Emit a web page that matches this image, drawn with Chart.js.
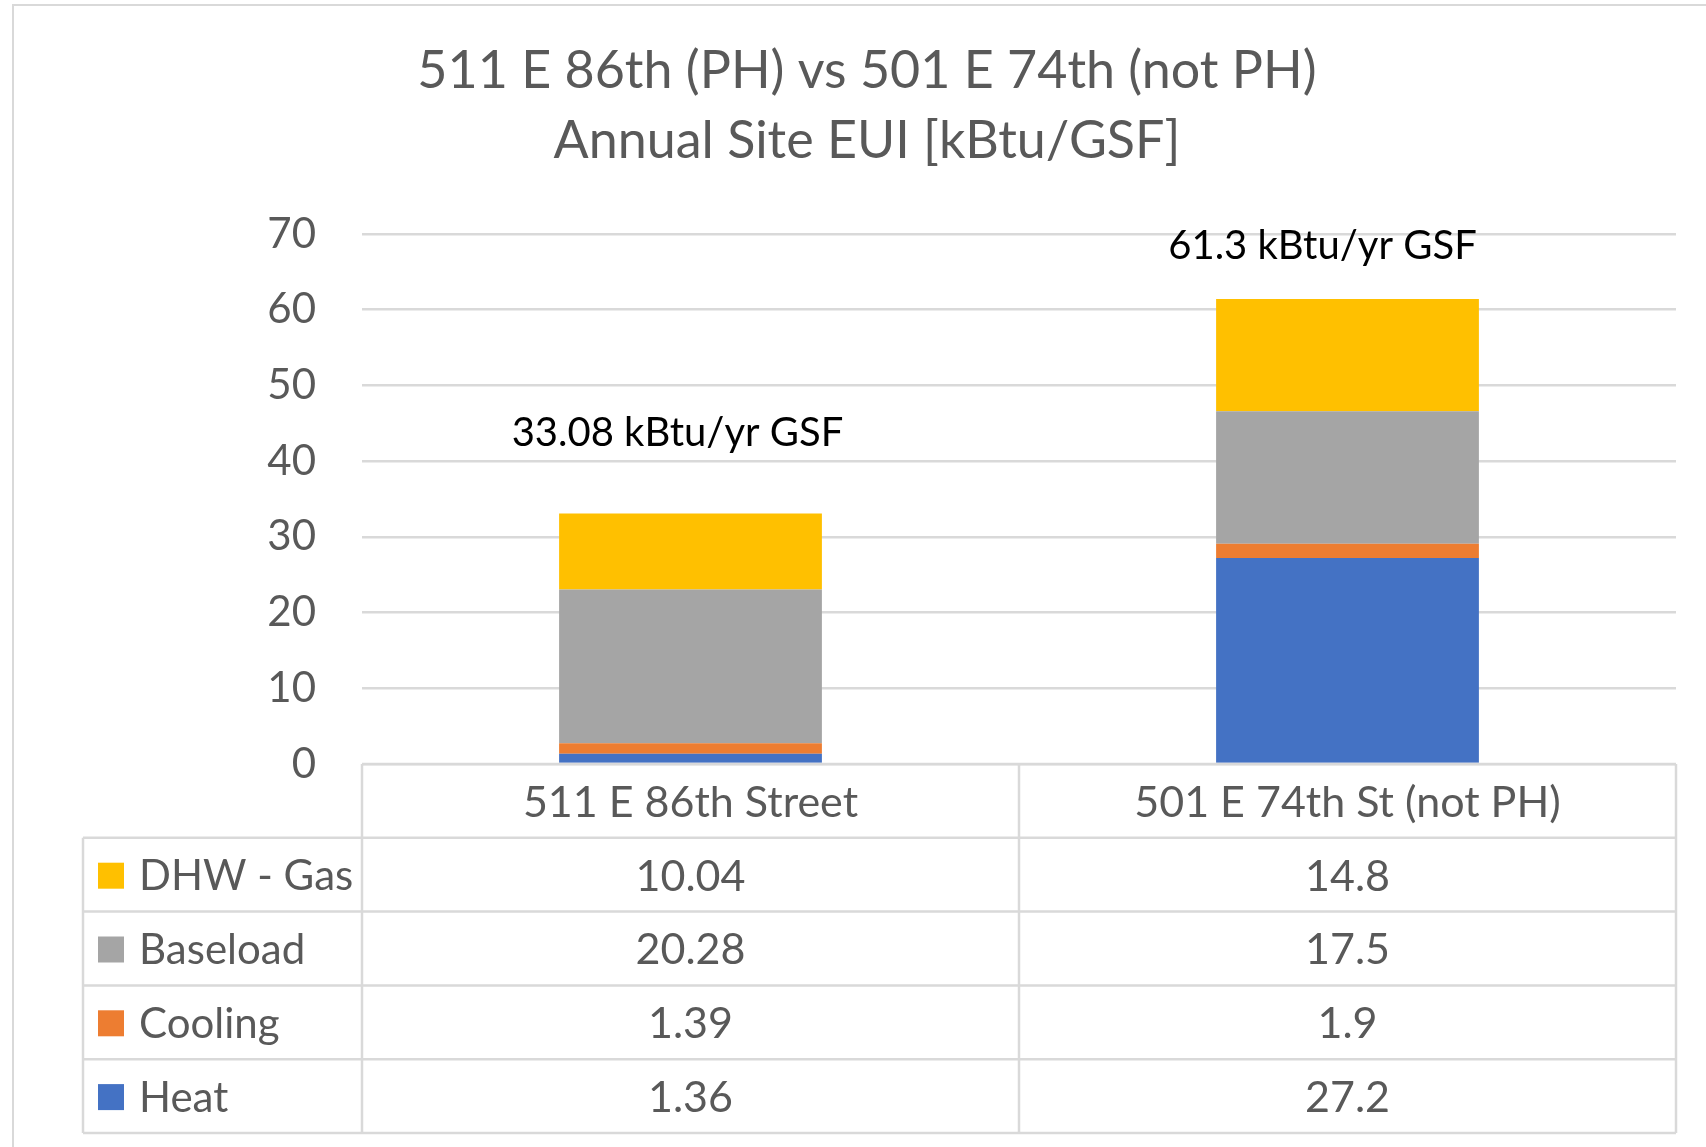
<!DOCTYPE html>
<html>
<head>
<meta charset="utf-8">
<script src="https://cdn.jsdelivr.net/npm/chart.js@4.4.1/dist/chart.umd.min.js"></script>
<style>
  html, body { margin: 0; padding: 0; background: #fff; }
</style>
</head>
<body>
<canvas id="myChart" width="1706" height="1147"></canvas>
<script>
const buildings = ['511 E 86th Street', '501 E 74th St (not PH)']
const heat = [1.36, 27.2]
const cooling = [1.39, 1.9]
const baseload = [20.28, 17.5]
const dhwGas = [10.04, 14.8]
const totalLabels = ['33.08 kBtu/yr GSF', '61.3 kBtu/yr GSF']

const ctx = document.getElementById('myChart')
const grey = '#595959'
const lineGrey = '#d9d9d9'

Chart.defaults.font.family = 'Lato'

// outer frame of the excel chart
const framePlugin = {
    id: 'frame',
    beforeDraw(chart) {
        const c = chart.ctx
        c.save()
        c.fillStyle = '#fff'
        c.fillRect(0, 0, chart.width, chart.height)
        c.strokeStyle = lineGrey
        c.lineWidth = 2
        c.beginPath()
        c.moveTo(13, chart.height)
        c.lineTo(13, 5)
        c.lineTo(chart.width, 5)
        c.stroke()
        c.restore()
    }
}

// total text above each stack
const totalsPlugin = {
    id: 'totals',
    afterDatasetsDraw(chart, args, opts) {
        const c = chart.ctx
        const meta = chart.getDatasetMeta(chart.data.datasets.length - 1)
        c.save()
        c.font = '40px Lato'
        c.fillStyle = '#000'
        c.textAlign = 'center'
        c.textBaseline = 'middle'
        totalLabels.forEach((t, i) => {
            const bar = meta.data[i]
            c.fillText(t, bar.x + opts.dx[i], bar.y - opts.dy[i])
        })
        c.restore()
    }
}

// data table with legend keys under the plot
const tablePlugin = {
    id: 'dataTable',
    afterDraw(chart, args, opts) {
        const c = chart.ctx
        const area = chart.chartArea
        const x = chart.scales.x
        const rowH = opts.rowHeight
        const left = opts.left
        const mid = (x.getPixelForValue(0) + x.getPixelForValue(1)) / 2
        const top = area.bottom
        const rows = chart.data.datasets.slice().reverse()
        const bottom = top + rowH * (rows.length + 1)

        c.save()
        c.strokeStyle = lineGrey
        c.lineWidth = 2.5
        c.beginPath()
        c.moveTo(area.left, top)
        c.lineTo(area.right, top)
        for (let i = 1; i <= rows.length + 1; i++) {
            c.moveTo(left, top + rowH * i)
            c.lineTo(area.right, top + rowH * i)
        }
        [area.left, mid, area.right].forEach(vx => {
            c.moveTo(vx, top)
            c.lineTo(vx, bottom)
        })
        c.moveTo(left, top + rowH)
        c.lineTo(left, bottom)
        c.stroke()

        c.font = '43px Lato'
        c.fillStyle = grey
        c.textAlign = 'center'
        c.textBaseline = 'middle'
        chart.data.labels.forEach((l, i) => {
            c.fillText(l, x.getPixelForValue(i), top + rowH / 2 + 2)
        })

        rows.forEach((ds, r) => {
            const cy = top + rowH * (r + 1) + rowH / 2 + 2
            c.fillStyle = ds.backgroundColor
            c.fillRect(left + 15, cy - 14, 26, 26)
            c.fillStyle = grey
            c.font = '42px Lato'
            c.textAlign = 'left'
            c.fillText(ds.label, left + 56, cy)
            c.font = '43px Lato'
            c.textAlign = 'center'
            ds.data.forEach((v, i) => {
                c.fillText(String(v), x.getPixelForValue(i), cy)
            })
        })
        c.restore()
    }
}

new Chart(ctx, {
    type: 'bar',
    data: {
        labels: buildings,
        datasets: [
            { label: 'Heat', data: heat, backgroundColor: '#4472C4' },
            { label: 'Cooling', data: cooling, backgroundColor: '#ED7D31' },
            { label: 'Baseload', data: baseload, backgroundColor: '#A5A5A5' },
            { label: 'DHW - Gas', data: dhwGas, backgroundColor: '#FFC000' }
        ]
    },
    plugins: [framePlugin, totalsPlugin, tablePlugin],
    options: {
        responsive: false,
        animation: false,
        barPercentage: 0.4,
        categoryPercentage: 1,
        layout: {
            padding: { left: 58, right: 30, top: 0, bottom: 383 }
        },
        plugins: {
            legend: { display: false },
            tooltip: { enabled: false },
            title: {
                display: true,
                text: ['511 E 86th (PH) vs 501 E 74th (not PH)', 'Annual Site EUI [kBtu/GSF]'],
                color: grey,
                font: { size: 52, weight: 'normal', lineHeight: 1.346 },
                padding: { top: 36, bottom: 58 }
            },
            totals: { dx: [-13, -25], dy: [81, 53] },
            dataTable: { rowHeight: 73.8, left: 83 }
        },
        scales: {
            x: {
                stacked: true,
                display: false
            },
            y: {
                stacked: true,
                min: 0,
                max: 70,
                afterFit(scale) { scale.width = 304 },
                border: { display: false },
                grid: { color: lineGrey, lineWidth: 2.5, drawTicks: false },
                ticks: {
                    stepSize: 10,
                    padding: 46,
                    color: grey,
                    font: { size: 42 }
                }
            }
        }
    }
})
</script>
</body>
</html>
